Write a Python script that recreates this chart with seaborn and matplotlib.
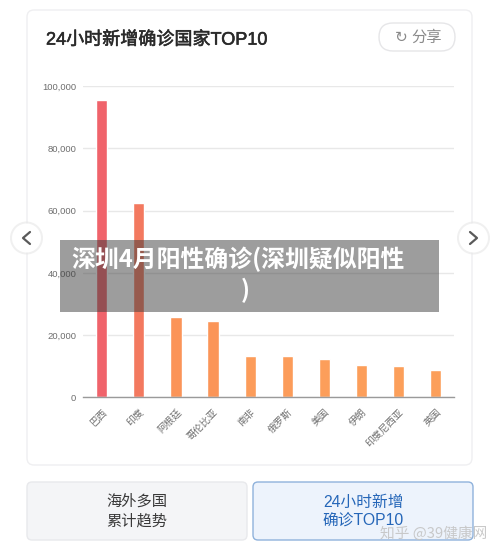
import matplotlib
matplotlib.use("Agg")
import matplotlib.pyplot as plt
import matplotlib.patheffects as pe
import seaborn as sns
import pandas as pd
from matplotlib.patches import FancyBboxPatch, Rectangle, Circle

countries = ["巴西", "印度", "阿根廷", "哥伦比亚", "南非", "俄罗斯", "美国", "伊朗", "印度尼西亚", "英国"]
new_cases = [95600, 62400, 25900, 24500, 13300, 13300, 12400, 10500, 10000, 8800]
bar_colors = ["#F0636B", "#F3795F", "#FB9458", "#FB9558", "#FC9C5A", "#FC9C5A", "#FC9E5A", "#FC9E5A", "#FC9F5A", "#FC9F5A"]
y_ticks = [0, 20000, 40000, 60000, 80000, 100000]

W, H = 500, 553
MIXED = ["Liberation Sans", "Noto Sans CJK SC", "DejaVu Sans"]

sns.set_theme(style="white")
plt.rcParams["font.family"] = ["Noto Sans CJK SC", "DejaVu Sans"]

df = pd.DataFrame({"country": countries, "cases": new_cases})

fig = plt.figure(figsize=(W / 100, H / 100), dpi=100, facecolor="white")

# full-figure layer in pixel coordinates for the page furniture
bg = fig.add_axes([0, 0, 1, 1], zorder=0)
bg.set_xlim(0, W)
bg.set_ylim(H, 0)
bg.axis("off")


def round_box(ax, x0, y0, x1, y1, r, fc, ec, lw=1):
    ax.add_patch(FancyBboxPatch((x0 + r, y0 + r), x1 - x0 - 2 * r, y1 - y0 - 2 * r,
                                boxstyle=f"round,pad={r}", fc=fc, ec=ec, lw=lw))


round_box(bg, 27, 10, 472, 465, 7, "white", "#EFEFF1")
title = bg.text(46, 40, "24小时新增确诊国家TOP10", fontsize=13, color="#2A2A2A", va="center", ha="left",
                family=MIXED)
title.set_path_effects([pe.withStroke(linewidth=0.4, foreground="#2A2A2A")])
round_box(bg, 379, 23, 455, 51, 14, "white", "#E6E6E8")
bg.text(401, 37, "↻", fontsize=11, color="#8A8A8A", ha="center", va="center", family="DejaVu Sans")
bg.text(427, 37, "分享", fontsize=11, color="#8A8A8A", ha="center", va="center")

round_box(bg, 27, 482, 247, 540, 5, "#F4F5F7", "#E8E9EC")
bg.text(137, 511, "海外多国\n累计趋势", fontsize=11, color="#3A3A3A", ha="center", va="center", linespacing=1.25)
round_box(bg, 253, 482, 473, 540, 5, "#EDF3FC", "#8FB2DC")
bg.text(363, 511, "24小时新增\n确诊TOP10", fontsize=11.3, color="#2566B8", ha="center", va="center",
        linespacing=1.2, family=MIXED)

# the chart itself
ax = fig.add_axes([83.2 / W, 1 - 397.3 / H, 371 / W, 311 / H], zorder=1)
ax.patch.set_alpha(0)
sns.barplot(data=df, x="country", y="cases", hue="country", palette=bar_colors, legend=False,
            width=0.3, saturation=1, ax=ax)
ax.set_xlim(-0.5, 9.5)
ax.set_ylim(0, 100000)
ax.set_yticks(y_ticks)
ax.set_yticklabels([f"{v:,}" for v in y_ticks], fontsize=6.8, color="#6E6E6E", family="Liberation Sans")
ax.set_xlabel("")
ax.set_ylabel("")
ax.grid(axis="y", color="#E8E8E8", lw=1)
ax.set_axisbelow(True)
ax.tick_params(axis="y", length=0, pad=5)
ax.tick_params(axis="x", length=0, pad=7)
ax.set_xticks(range(len(countries)))
ax.set_xticklabels(countries, rotation=45, ha="right", rotation_mode="anchor", fontsize=7, color="#6E6E6E")
for s in ["top", "right", "left"]:
    ax.spines[s].set_visible(False)
ax.spines["bottom"].set_color("#9A9A9A")
ax.spines["bottom"].set_linewidth(1)

# overlay layer on top of the chart
top = fig.add_axes([0, 0, 1, 1], zorder=2)
top.set_xlim(0, W)
top.set_ylim(H, 0)
top.axis("off")
top.add_patch(Rectangle((60, 240), 379, 72, fc="#3C3C3C", alpha=0.5, ec="none"))
top.text(71, 259, "深圳4月阳性确诊(深圳疑似阳性", fontsize=17.2, color="white", weight="bold", ha="left", va="center")
top.text(245, 290, ")", fontsize=17.2, color="white", weight="bold", ha="center", va="center")

for cx, sign in [(26.5, 1), (473.5, -1)]:
    top.add_patch(Circle((cx, 238), 16.5, fc="#E6E6E6", ec="none", alpha=0.6))
    top.add_patch(Circle((cx, 238), 14.5, fc="white", ec="none"))
    top.plot([cx + 3.5 * sign, cx - 3.5 * sign, cx + 3.5 * sign], [232, 238, 244], color="#5A5A5A", lw=1.6)
top.set_xlim(0, W)
top.set_ylim(H, 0)

top.text(380, 534, "知乎 @39健康网", fontsize=10.6, color="#C4C4C4", ha="left", va="center", alpha=0.9)

fig.savefig("out.png", dpi=100)
